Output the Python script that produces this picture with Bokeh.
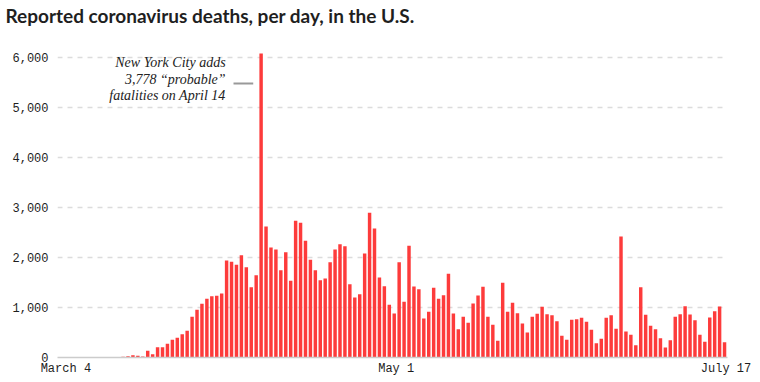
import pandas as pd
from bokeh.plotting import figure
from bokeh.models import ColumnDataSource, FixedTicker, NumeralTickFormatter, Label, Title
from bokeh.embed import file_html
from bokeh.resources import INLINE

# ---- data ----
start_date = "2020-03-04"
end_date = "2020-07-17"
deaths = [
    1, 1, 2, 3, 3, 4, 3, 5, 5, 7, 10, 9, 12, 17,
    27, 47, 33, 20, 133, 67, 207, 207, 273, 353, 393, 467, 533, 813,
    953, 1073, 1173, 1227, 1233, 1280, 1940, 1913, 1853, 2047, 1807, 1407,
    1647, 6080, 2620, 2200, 2160, 1747, 2107, 1533, 2733, 2693, 2333, 1953,
    1747, 1547, 1580, 1907, 2160, 2267, 2227, 1467, 1200, 1267, 2080, 2893,
    2580, 1600, 1427, 1053, 880, 1907, 1113, 2233, 1420, 1367, 780, 913,
    1393, 1173, 1247, 1673, 880, 567, 813, 693, 1080, 1240, 1413, 813,
    653, 333, 1493, 913, 1093, 887, 680, 500, 813, 873, 1013, 867,
    847, 727, 433, 353, 753, 767, 793, 713, 553, 287, 373, 793,
    847, 573, 2420, 520, 453, 247, 1407, 853, 633, 567, 387, 200,
    347, 813, 867, 1027, 860, 747, 453, 313, 800, 927, 1020, 307,
]
y_ticks = [0, 1000, 2000, 3000, 4000, 5000, 6000]
x_tick_labels = ["March 4", "May 1", "July 17"]
note_lines = ["New York City adds", "3,778 \u201cprobable\u201d", "fatalities on April 14"]
title_text = "Reported coronavirus deaths, per day, in the U.S."

dates = pd.date_range(start_date, end_date, freq="D")
idx = list(range(len(dates)))
source = ColumnDataSource(dict(x=idx, deaths=deaths, date=[d.strftime("%b %d") for d in dates]))

peak_i = max(idx, key=lambda i: deaths[i])

p = figure(width=760, height=378, output_backend="svg", toolbar_location=None,
           x_range=(-0.3, len(idx) - 0.4), y_range=(0, 6100),
           min_border_left=57, min_border_right=33, min_border_top=0, min_border_bottom=0)
p.outline_line_color = None
p.background_fill_color = "white"
p.border_fill_color = "white"

p.vbar(x="x", top="deaths", width=0.7, source=source,
       fill_color="#fd3b3b", line_color=None)

# axes
p.xgrid.grid_line_color = None
p.ygrid.grid_line_color = "#dcdcdc"
p.ygrid.grid_line_width = 1.6
p.ygrid.grid_line_dash = "5 5"
p.ygrid.ticker = FixedTicker(ticks=y_ticks)

p.yaxis.ticker = FixedTicker(ticks=y_ticks)
p.yaxis.formatter = NumeralTickFormatter(format="0,0")
p.yaxis.axis_line_color = None
p.yaxis.major_tick_line_color = None
p.yaxis.minor_tick_line_color = None
p.yaxis.major_tick_out = 0
p.yaxis.major_tick_in = 0
p.yaxis.minor_tick_out = 0
p.yaxis.major_label_standoff = 9
p.yaxis.major_label_text_font = "Liberation Mono"
p.yaxis.major_label_text_font_size = "12px"
p.yaxis.major_label_text_color = "#1e1e1e"

x_tick_pos = [1.4, 68.4, 135.3]
p.xaxis.ticker = FixedTicker(ticks=x_tick_pos)
p.xaxis.major_label_overrides = {t: l for t, l in zip(x_tick_pos, x_tick_labels)}
p.xaxis.axis_line_color = "#cccccc"
p.xaxis.axis_line_width = 1.5
p.xaxis.major_tick_line_color = None
p.xaxis.minor_tick_line_color = None
p.xaxis.major_tick_out = 0
p.xaxis.major_tick_in = 0
p.xaxis.minor_tick_out = 0
p.xaxis.major_label_standoff = 4
p.xaxis.major_label_text_font = "Liberation Mono"
p.xaxis.major_label_text_font_size = "12px"
p.xaxis.major_label_text_color = "#1e1e1e"

# annotation
note_x = peak_i - 7.2
for k, line in enumerate(note_lines):
    p.add_layout(Label(x=note_x, y=5894 - k * 330, text=line, text_align="right",
                       text_baseline="alphabetic", text_font="Liberation Serif",
                       text_font_style="italic", text_font_size="14px",
                       text_color="#222222"))
p.segment(x0=[peak_i - 5.6], x1=[peak_i - 1.6], y0=[5480], y1=[5480],
          line_color="#999999", line_width=2)

# title: spacer panel next to the frame, then the headline on top
spacer = Title(text=" ", standoff=7, text_font="Lato", text_font_size="10px")
p.add_layout(spacer, "above")
headline = Title(text=title_text, align="left", vertical_align="top", offset=-52, standoff=6,
                 text_font="Lato", text_font_style="bold",
                 text_font_size="19px", text_color="#1f1f1f")
p.add_layout(headline, "above")

open("out.html", "w").write(file_html(p, INLINE))
